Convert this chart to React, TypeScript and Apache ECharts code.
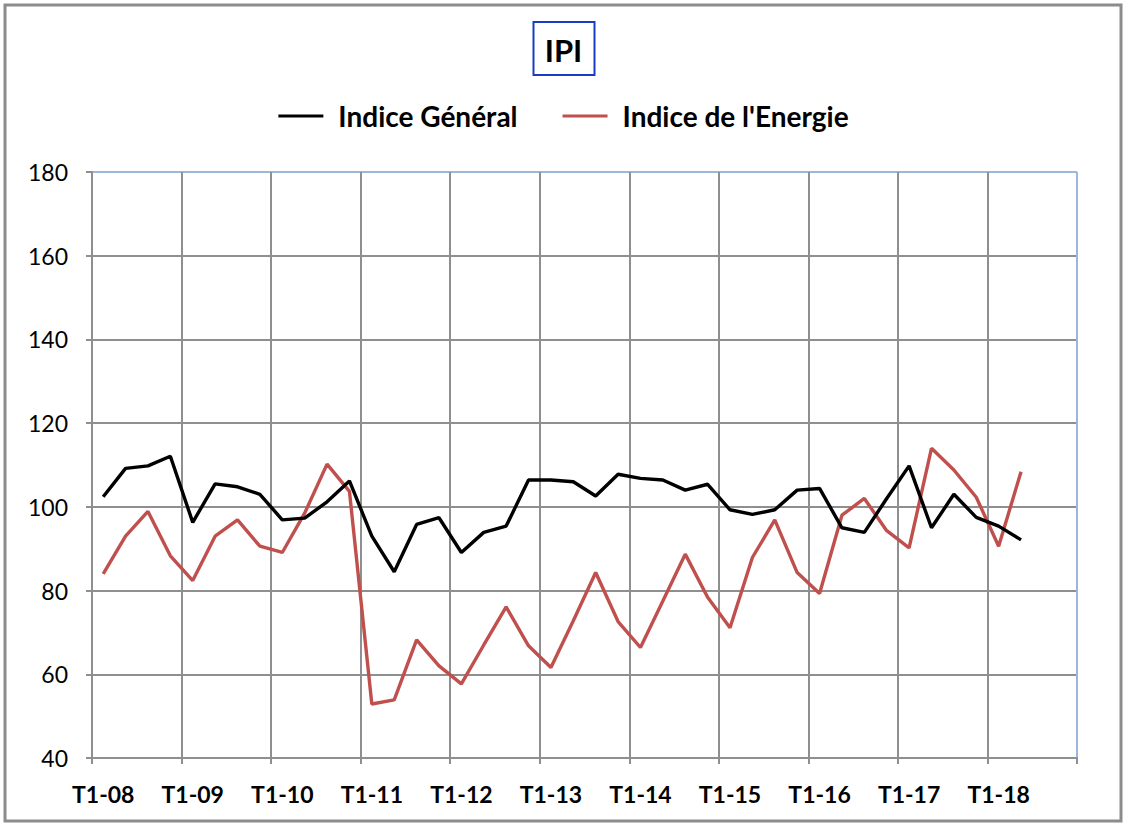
import React, { useEffect, useRef } from "react";
import * as echarts from "echarts";

const categories: string[] = [
  "T1-08", "T2-08", "T3-08", "T4-08",
  "T1-09", "T2-09", "T3-09", "T4-09",
  "T1-10", "T2-10", "T3-10", "T4-10",
  "T1-11", "T2-11", "T3-11", "T4-11",
  "T1-12", "T2-12", "T3-12", "T4-12",
  "T1-13", "T2-13", "T3-13", "T4-13",
  "T1-14", "T2-14", "T3-14", "T4-14",
  "T1-15", "T2-15", "T3-15", "T4-15",
  "T1-16", "T2-16", "T3-16", "T4-16",
  "T1-17", "T2-17", "T3-17", "T4-17",
  "T1-18", "T2-18", "T3-18", "T4-18",
];

const indiceGeneral: number[] = [
  102.4, 109.2, 109.8, 112.1,
  96.3, 105.5, 104.8, 103.0,
  96.9, 97.3, 101.2, 106.2,
  93.0, 84.5, 95.8, 97.4,
  89.1, 93.9, 95.4, 106.4,
  106.4, 106.0, 102.6, 107.8,
  106.8, 106.4, 104.0, 105.4,
  99.3, 98.2, 99.3, 104.0,
  104.4, 95.0, 93.9, 102.0,
  109.8, 95.0, 103.0, 97.5,
  95.4, 92.1,
];

const indiceEnergie: number[] = [
  84.0, 93.0, 98.9, 88.3,
  82.4, 93.0, 96.9, 90.6,
  89.1, 98.5, 110.2, 103.7,
  52.9, 53.9, 68.2, 62.0,
  57.7, 67.0, 76.1, 66.8,
  61.6, 72.8, 84.3, 72.6,
  66.4, 77.5, 88.7, 78.4,
  71.1, 87.9, 96.9, 84.3,
  79.3, 98.0, 102.0, 94.3,
  90.2, 114.0, 108.8, 102.3,
  90.6, 108.4,
];

const seriesNames: string[] = ["Indice Général", "Indice de l'Energie"];
const titleText = "IPI";

const FONT = "Lato, 'Noto Sans', sans-serif";
const GRID_GRAY = "#8f8f8f";
const BORDER_BLUE = "#9bb7da";

export default function App() {
  const ref = useRef<HTMLDivElement>(null);

  useEffect(() => {
    if (!ref.current) return;
    const chart = echarts.init(ref.current, null, { renderer: "svg" });
    chart.setOption({
      animation: false,
      backgroundColor: "#ffffff",
      textStyle: { fontFamily: FONT },
      title: {
        text: titleText,
        left: "center",
        top: 22,
        padding: [12, 12, 10, 11],
        borderColor: "#1a3bc4",
        borderWidth: 2,
        textStyle: {
          fontFamily: FONT,
          fontWeight: "bold",
          fontSize: 31,
          color: "#000",
        },
      },
      legend: {
        top: 97,
        left: "center",
        itemWidth: 45,
        itemHeight: 14,
        itemGap: 45,
        icon: "path://M0,6 L45,6 L45,9 L0,9 Z",
        textStyle: {
          fontFamily: FONT,
          fontWeight: "bold",
          fontSize: 28,
          color: "#000",
          padding: [0, 0, 0, 10],
        },
        data: seriesNames,
      },
      grid: {
        left: 92,
        right: 50,
        top: 172,
        bottom: 67,
        show: false,
      },
      xAxis: {
        type: "category",
        data: categories,
        boundaryGap: true,
        axisLine: { show: true, lineStyle: { color: GRID_GRAY, width: 2 } },
        axisTick: {
          show: true,
          interval: 3,
          length: 6,
          lineStyle: { color: GRID_GRAY, width: 2 },
        },
        axisLabel: {
          interval: 3,
          margin: 24,
          fontFamily: FONT,
          fontWeight: "bold",
          fontSize: 23,
          color: "#000",
        },
        splitLine: {
          show: true,
          interval: 3,
          lineStyle: {
            color: [
              GRID_GRAY, GRID_GRAY, GRID_GRAY, GRID_GRAY, GRID_GRAY, GRID_GRAY,
              GRID_GRAY, GRID_GRAY, GRID_GRAY, GRID_GRAY, GRID_GRAY, BORDER_BLUE,
            ],
            width: 2,
          },
        },
      },
      yAxis: {
        type: "value",
        min: 40,
        max: 180,
        interval: 20,
        axisLine: { show: true, lineStyle: { color: GRID_GRAY, width: 2 } },
        axisTick: {
          show: true,
          length: 6,
          lineStyle: { color: GRID_GRAY, width: 2 },
        },
        axisLabel: {
          margin: 24,
          fontFamily: FONT,
          fontSize: 23,
          color: "#000",
        },
        splitLine: {
          show: true,
          lineStyle: {
            color: [
              GRID_GRAY, GRID_GRAY, GRID_GRAY, GRID_GRAY,
              GRID_GRAY, GRID_GRAY, GRID_GRAY, BORDER_BLUE,
            ],
            width: 2,
          },
        },
      },
      series: [
        {
          name: seriesNames[0],
          type: "line",
          data: indiceGeneral,
          symbol: "none",
          lineStyle: { color: "#000000", width: 3.4 },
          itemStyle: { color: "#000000" },
          z: 3,
        },
        {
          name: seriesNames[1],
          type: "line",
          data: indiceEnergie,
          symbol: "none",
          lineStyle: { color: "#c0504d", width: 3.4 },
          itemStyle: { color: "#c0504d" },
          z: 2,
        },
      ],
      graphic: [
        {
          type: "rect",
          shape: { x: 5, y: 5, width: 1116, height: 816 },
          style: { fill: "none", stroke: "#8c8c8c", lineWidth: 3 },
          silent: true,
          z: 100,
        },
      ],
    });
    return () => chart.dispose();
  }, []);

  return (
    <div
      ref={ref}
      style={{ position: "fixed", left: 0, top: 0, width: 1127, height: 825 }}
    />
  );
}
